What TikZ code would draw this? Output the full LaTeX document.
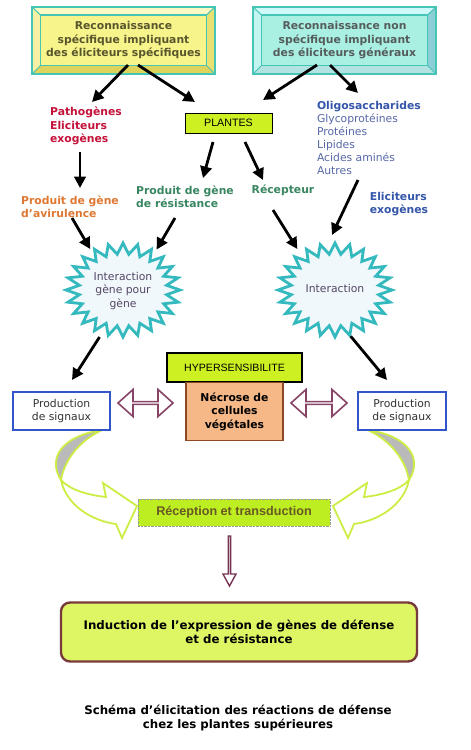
\documentclass[tikz,border=0pt]{standalone}
\usepackage{fontspec}
\setmainfont{DejaVu Sans}
\newfontfamily\arialfont{Liberation Sans}
\usepackage{tikz}
\usetikzlibrary{
	arrows.meta, shapes.geometric, shapes.arrows, positioning, calc
}
\definecolor{yface}    {RGB}{248, 244, 140}
\definecolor{ytop}     {RGB}{252, 250, 196}
\definecolor{yleft}    {RGB}{246, 241, 165}
\definecolor{ybot}     {RGB}{222, 212,  92}
\definecolor{yright}   {RGB}{232, 224, 112}
\definecolor{cface}    {RGB}{170, 240, 226}
\definecolor{ctop}     {RGB}{208, 250, 250}
\definecolor{cleft}    {RGB}{196, 244, 240}
\definecolor{cbot}     {RGB}{178, 226, 226}
\definecolor{cright}   {RGB}{140, 206, 214}
\definecolor{tealb}    {RGB}{ 70, 196, 182}
\definecolor{olivetxt} {RGB}{ 88,  86,  44}
\definecolor{graytxt}  {RGB}{ 84,  92,  92}
\definecolor{pathred}  {RGB}{196,  18,  58}
\definecolor{limef}    {RGB}{204, 240,  34}
\definecolor{oliblue}  {RGB}{ 52,  86, 170}
\definecolor{listblue} {RGB}{ 88, 104, 168}
\definecolor{avrorange}{RGB}{222, 120,  50}
\definecolor{resgreen} {RGB}{ 56, 134,  96}
\definecolor{burstb}   {RGB}{ 52, 186, 190}
\definecolor{burstf}   {RGB}{240, 248, 252}
\definecolor{bursttxt} {RGB}{ 84,  70, 100}
\definecolor{necf}     {RGB}{246, 184, 134}
\definecolor{necb}     {RGB}{140,  74,  36}
\definecolor{psblue}   {RGB}{ 52,  84, 204}
\definecolor{dblpurple}{RGB}{136,  68, 102}
\definecolor{ribbonl}  {RGB}{204, 238,  68}
\definecolor{ribbong}  {RGB}{186, 186, 186}
\definecolor{recvf}    {RGB}{188, 238,  34}
\definecolor{recvtxt}  {RGB}{104,  88,  36}
\definecolor{downb}    {RGB}{120,  52,  84}
\definecolor{inducf}   {RGB}{222, 245, 100}
\definecolor{inducb}   {RGB}{120,  58,  60}

% bevelled frame: x1 y1 x2 y2, face, top, left, bottom, right
\newcommand{\bevelbox}[9]{%
	\fill[#5] (#1,#2) rectangle (#3,#4);
	\fill[#6] (#1,#2)--(#3,#2)--(#3-8.5,#2+8)--(#1+8.5,#2+8)--cycle;
	\fill[#7] (#1,#2)--(#1+8.5,#2+8)--(#1+8.5,#4-8.5)--(#1,#4)--cycle;
	\fill[#8] (#1,#4)--(#1+8.5,#4-8.5)--(#3-8.5,#4-8.5)--(#3,#4)--cycle;
	\fill[#9] (#3,#2)--(#3-8.5,#2+8)--(#3-8.5,#4-8.5)--(#3,#4)--cycle;
	\draw[tealb,line width=1.6pt] (#1,#2) rectangle (#3,#4);
	\draw[tealb,line width=1.6pt] (#1+8.5,#2+8) rectangle (#3-8.5,#4-8.5);
	\draw[tealb,line width=1pt] (#1,#2)--(#1+8.5,#2+8) (#3,#2)--(#3-8.5,#2+8)
		(#1,#4)--(#1+8.5,#4-8.5) (#3,#4)--(#3-8.5,#4-8.5);
}
% 24 point burst round a centre
\newcommand{\burst}[2]{%
	\draw[burstb,fill=burstf,line width=2.8pt,line join=miter] ({#1+57},#2)
		\foreach \k in {1,...,47}{ -- ({#1+(50.5+6.5*cos(180*\k))*cos(7.5*\k)},{#2+(41.5+5.5*cos(180*\k))*sin(7.5*\k)}) } -- cycle;
}
% twisted open arrow under a signal box
\newcommand{\ribbon}{%
	\draw[ribbonl,fill=ribbong,line width=1.8pt,line join=round] (102,430)
		.. controls (62,436) and (47,458) .. (61,480)
		.. controls (64,462) and (77,442) .. (102,430) -- cycle;
	\draw[ribbonl,fill=white,line width=1.8pt,line join=miter] (61,480)
		.. controls (66,505) and (92,521) .. (116,524) -- (122,538) -- (137,506)
		-- (103,483) -- (106,497) .. controls (88,495) and (70,490) .. (61,480) -- cycle;
}

\tikzset{
	every node/.style={font=\fontsize{10.8}{13.3}\selectfont, align=center, inner sep=0pt, outer sep=0pt},
	bold/.style={font=\fontsize{10.8}{13.5}\selectfont\bfseries},
	arr/.style={line width=2.8pt, -{Triangle[length=11.5pt,width=11.5pt]}},
	framebox/.style={minimum width=183, minimum height=67, bold},
	sigbox/.style={draw=psblue, fill=white, line width=2.2pt, minimum height=38, text=black!80},
	blockarrow/.style={draw=dblpurple, fill=white, line width=1.6pt, inner sep=0pt},
}

\begin{document}
\begin{tikzpicture}[x=1pt,y=-1pt]
	\fill[white] (0,0) rectangle (471,750);
	\useasboundingbox (0,0) rectangle (471,750);

	% recognition frames
	\bevelbox{32}{7}{215}{74}{yface}{ytop}{yleft}{ybot}{yright}
	\bevelbox{253}{7}{436}{74}{cface}{ctop}{cleft}{cbot}{cright}
	\node[framebox, text=olivetxt] (rs) at (123.5,40.5) {Reconnaissance\\spécifique impliquant\\des éliciteurs spécifiques};
	\node[framebox, text=graytxt] (rns) at (344.5,40.5) {Reconnaissance non\\spécifique impliquant\\des éliciteurs généraux};

	% labels
	\node[bold, align=left, text=pathred] (patho) at (86,126) {Pathogènes\\Eliciteurs\\exogènes};
	\node[draw, fill=limef, line width=1pt, minimum width=87, minimum height=20,
		font=\arialfont\fontsize{10.7}{13}\selectfont] (plantes) at (228.5,123) {PLANTES};
	\node[anchor=west, align=left, text=listblue, font=\fontsize{10.8}{13}\selectfont] (oligo) at (317,137.5)
		{\textbf{\color{oliblue}Oligosaccharides}\\Glycoprotéines\\Protéines\\Lipides\\Acides aminés\\Autres};
	\node[bold, align=left, text=avrorange] (avr) at (70,207) {Produit de gène\\d’avirulence};
	\node[bold, align=left, text=resgreen] (res) at (185,197) {Produit de gène\\de résistance};
	\node[bold, text=resgreen] (recep) at (283,190) {Récepteur};
	\node[bold, align=left, text=oliblue] (elic) at (399,204) {Eliciteurs\\exogènes};

	% interactions
	\burst{123}{290}
	\burst{335}{290}
	\node[ellipse, minimum width=120, minimum height=100, text=bursttxt] (igg) at (123,291) {Interaction\\gène pour\\gène};
	\node[ellipse, minimum width=120, minimum height=100, text=bursttxt] (ia) at (335,288) {Interaction};

	% open arrows towards reception
	\ribbon
	\begin{scope}[xshift=470pt, xscale=-1]
		\ribbon
	\end{scope}

	% hypersensitivity
	\node[draw, fill=limef, line width=1.8pt, minimum width=135, minimum height=29,
		font=\arialfont\fontsize{10.6}{13}\selectfont] (hyper) at (234.5,367.5) {HYPERSENSIBILITE};
	\node[draw=necb, fill=necf, line width=1.4pt, minimum width=97, minimum height=58, bold] (necrose)
		at (234.5,411.5) {Nécrose de\\cellules\\végétales};
	\node[sigbox, minimum width=97] (psl) at (61.5,411) {Production\\de signaux};
	\node[sigbox, minimum width=88] (psr) at (402,411) {Production\\de signaux};
	\node[blockarrow, double arrow, minimum height=55, minimum width=27, double arrow head extend=7pt,
		double arrow tip angle=84] (dal) at (145.5,403) {};
	\node[blockarrow, double arrow, minimum height=56, minimum width=27, double arrow head extend=7pt,
		double arrow tip angle=84] (dar) at (319,403) {};

	% reception and induction
	\node[fill=recvf, draw=black!40, densely dotted, minimum width=192, minimum height=27,
		text=recvtxt, font=\arialfont\fontsize{12.6}{15}\selectfont\bfseries] (recv) at (234,512.5) {Réception et transduction};
	\node[draw=downb, fill=white, line width=1.4pt, single arrow, shape border rotate=270,
		minimum height=50, minimum width=13, single arrow head extend=3.5pt, single arrow tip angle=57] (dn) at (229.5,560) {};
	\node[draw=inducb, fill=inducf, line width=2.4pt, rounded corners=9pt, minimum width=356, minimum height=59,
		font=\fontsize{11.8}{14.5}\selectfont\bfseries] (induc) at (239,632)
		{Induction de l’expression de gènes de défense\\et de résistance};
	\node[font=\fontsize{11.8}{14.5}\selectfont\bfseries] (caption) at (238,718)
		{Schéma d’élicitation des réactions de défense\\chez les plantes supérieures};

	% connectors
	\draw[arr] ([shift={(4.5,-9)}]rs.south) -- ([shift={(6,-24)}]patho.center);
	\draw[arr] ([shift={(14.5,-9)}]rs.south) -- ([shift={(10,-11)}]plantes.north west);
	\draw[arr] ([shift={(-27.5,-9)}]rns.south) -- ([shift={(-9,-13)}]plantes.north east);
	\draw[arr] ([shift={(-14.5,-9)}]rns.south) -- ([shift={(41,-44.5)}]oligo.west);
	\draw[arr] ([shift={(-6,26)}]patho.center) -- ([shift={(10,-19)}]avr.center);
	\draw[arr] ([shift={(-15.5,9)}]plantes.south) -- ([shift={(18,-19)}]res.center);
	\draw[arr] ([shift={(16.5,9)}]plantes.south) -- ([shift={(-20,-10)}]recep.center);
	\draw[arr] ([shift={(41,42.5)}]oligo.west) -- ([shift={(-3,-3)}]ia.north);
	\draw[arr] ([shift={(2,11)}]avr.center) -- (igg.128);
	\draw[arr] ([shift={(-10,21)}]res.center) -- (igg.51);
	\draw[arr] ([shift={(-10,20)}]recep.center) -- (ia.134);
	\draw[arr] (igg.243) -- ([shift={(10.5,-12)}]psl.north);
	\draw[arr] (ia.288) -- ([shift={(-15,-12)}]psr.north);
\end{tikzpicture}
\end{document}
